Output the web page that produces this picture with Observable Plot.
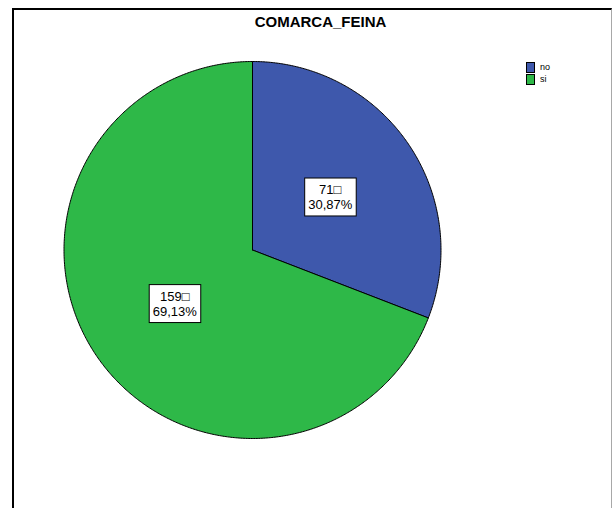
<!DOCTYPE html>
<html><head><meta charset="utf-8">
<script src="https://cdn.jsdelivr.net/npm/d3@7"></script>
<script src="https://cdn.jsdelivr.net/npm/@observablehq/plot@0.6"></script>
<style>
body{margin:0;background:#fff;font-family:"Liberation Sans",Arial,sans-serif;}
#wrap{position:relative;width:612px;height:508px;overflow:hidden;background:#fff;}
#frame{position:absolute;left:12px;top:8px;width:600px;height:600px;border-top:2px solid #000;border-left:2px solid #000;border-right:1px solid #a8a8a8;box-sizing:border-box;}
#chart{position:absolute;left:0;top:0;}
#legend{position:absolute;left:526px;top:61px;font-size:9px;color:#000;}
.item{display:flex;align-items:center;height:12px;}
.sw{width:7px;height:9px;border:1px solid #000;margin-right:5px;}
</style></head><body>
<div id="wrap"><div id="frame"></div><div id="chart"></div><div id="legend"></div></div>
<script>
const title = "COMARCA_FEINA";
const categories = ["no", "si"];
const counts = [71, 159];
const colors = ["#3E58AC", "#2EB848"];

const total = d3.sum(counts);
let acc = 0;
const slices = categories.map((c, i) => {
  const a0 = acc / total * 2 * Math.PI;
  acc += counts[i];
  const a1 = acc / total * 2 * Math.PI;
  return {c, count: counts[i], pct: counts[i] / total, a0, a1, mid: (a0 + a1) / 2};
});
const pts = slices.flatMap(s => {
  const n = Math.max(2, Math.ceil((s.a1 - s.a0) / (Math.PI / 360)));
  const arr = [{c: s.c, x: 0, y: 0}];
  for (let k = 0; k <= n; k++) {
    const a = s.a0 + (s.a1 - s.a0) * k / n;
    arr.push({c: s.c, x: Math.sin(a), y: Math.cos(a)});
  }
  arr.push({c: s.c, x: 0, y: 0});
  return arr;
});
const fmt = p => d3.format(".2f")(p * 100).replace(".", ",") + "%";

const cx = 252, cy = 249.5, r = 188.5;
const svg = Plot.plot({
  width: 612, height: 508,
  marginTop: 0, marginRight: 0, marginBottom: 0, marginLeft: 0,
  style: {fontFamily: '"Liberation Sans", Arial, sans-serif', background: "transparent", overflow: "visible"},
  x: {domain: [-1, 1], range: [cx - r, cx + r], axis: null},
  y: {domain: [-1, 1], range: [cy + r, cy - r], axis: null},
  color: {domain: categories, range: colors},
  marks: [
    Plot.line(pts, {x: "x", y: "y", z: "c", fill: "c", stroke: "#000", strokeWidth: 1, strokeLinejoin: "round", curve: "linear"}),
    Plot.text(slices, {
      x: s => 0.5 * Math.sin(s.mid), y: s => 0.5 * Math.cos(s.mid),
      text: s => `${s.count}\u25A1\n${fmt(s.pct)}`,
      fontSize: 13, lineHeight: 1.15, lineAnchor: "middle", textAnchor: "middle", fill: "#000"
    }),
    Plot.text([title], {frameAnchor: "top-left", dx: 320, dy: 26.5, lineAnchor: "bottom", textAnchor: "middle", fontSize: 15, fontWeight: "bold", fill: "#000"})
  ]
});
document.getElementById("chart").appendChild(svg);

// white bordered boxes behind the slice labels
const labelTexts = svg.querySelectorAll('g[aria-label="text"]')[0].querySelectorAll("text");
labelTexts.forEach(t => {
  const b = t.getBBox();
  const rect = document.createElementNS("http://www.w3.org/2000/svg", "rect");
  rect.setAttribute("x", b.x - 3.5);
  rect.setAttribute("y", b.y - 4);
  rect.setAttribute("width", b.width + 7);
  rect.setAttribute("height", b.height + 8);
  rect.setAttribute("fill", "#fff");
  rect.setAttribute("stroke", "#000");
  rect.setAttribute("stroke-width", 1);
  if (t.getAttribute("transform")) rect.setAttribute("transform", t.getAttribute("transform"));
  t.parentNode.insertBefore(rect, t);
});

const legend = document.getElementById("legend");
categories.forEach((c, i) => {
  const it = document.createElement("div"); it.className = "item";
  const sw = document.createElement("div"); sw.className = "sw"; sw.style.background = colors[i];
  const lb = document.createElement("span"); lb.textContent = c;
  it.appendChild(sw); it.appendChild(lb); legend.appendChild(it);
});
</script>
</body></html>
